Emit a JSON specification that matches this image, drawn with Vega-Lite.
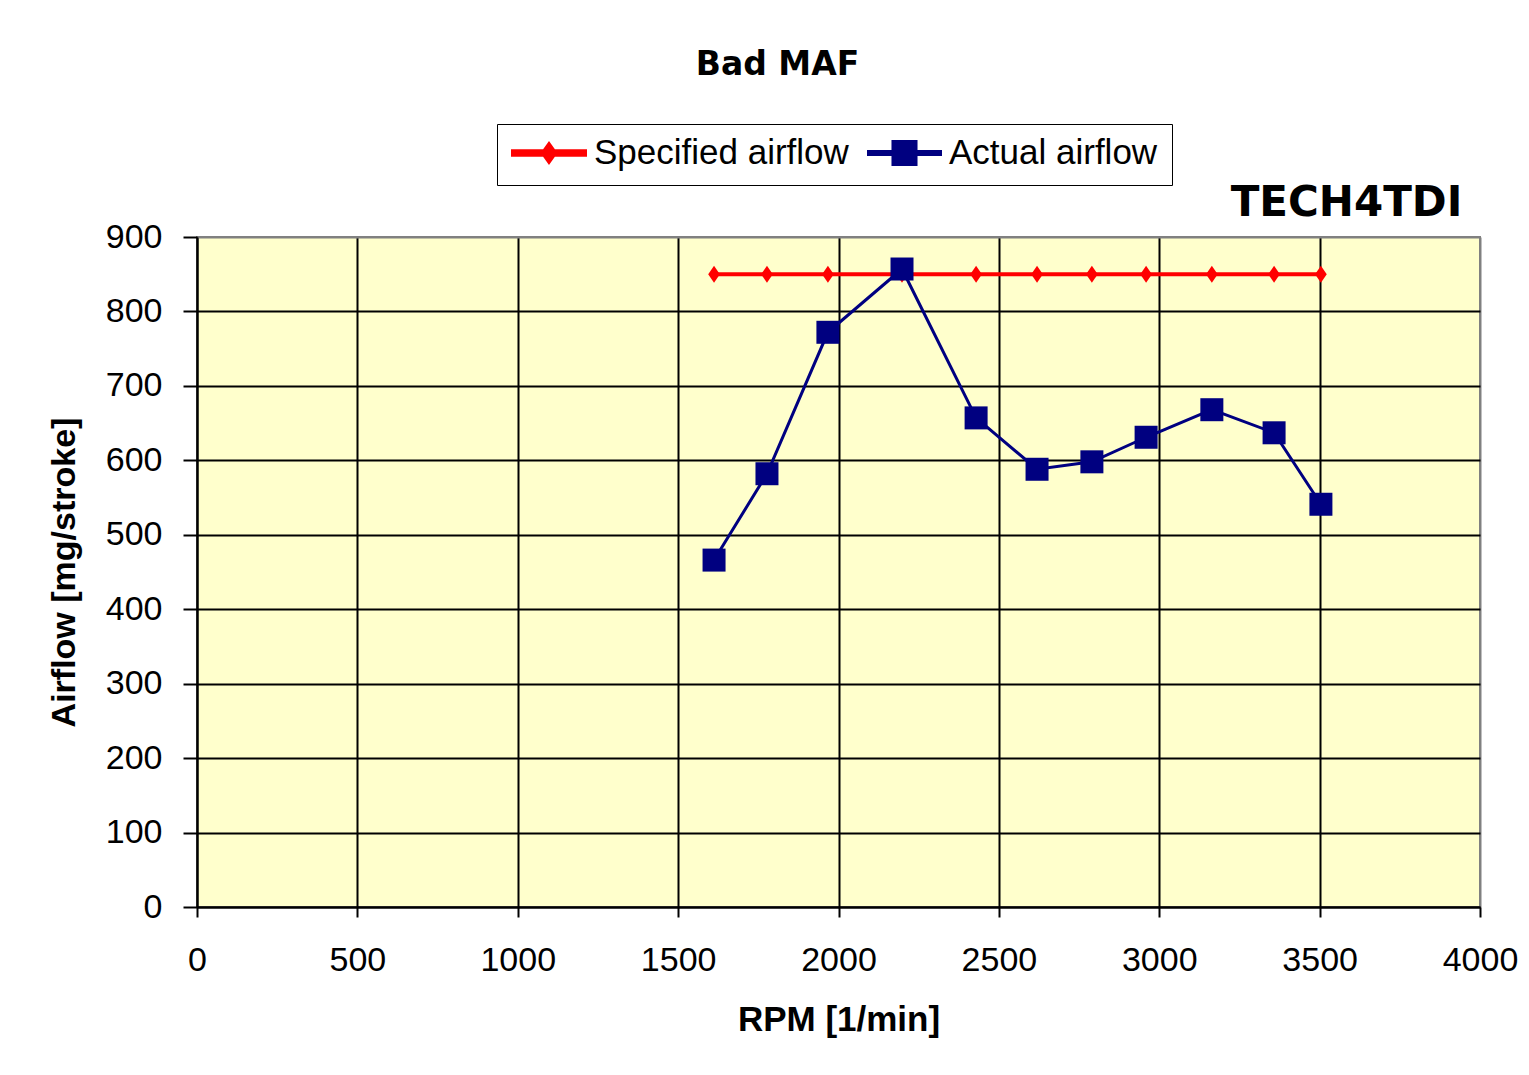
{
  "$schema": "https://vega.github.io/schema/vega-lite/v6.json",
  "width": 1283,
  "height": 670,
  "autosize": {"type": "none"},
  "padding": {"left": 197, "top": 237, "right": 49, "bottom": 168},
  "background": "white",
  "title": {
    "text": "Bad MAF",
    "font": "DejaVu Sans",
    "fontSize": 33,
    "fontWeight": "bold",
    "color": "black",
    "anchor": "middle",
    "dx": -61,
    "offset": 42
  },
  "data": {
    "values": [
      {"rpm": 1612, "airflow": 850, "series": "Specified airflow"},
      {"rpm": 1777, "airflow": 850, "series": "Specified airflow"},
      {"rpm": 1967, "airflow": 850, "series": "Specified airflow"},
      {"rpm": 2198, "airflow": 850, "series": "Specified airflow"},
      {"rpm": 2429, "airflow": 850, "series": "Specified airflow"},
      {"rpm": 2619, "airflow": 850, "series": "Specified airflow"},
      {"rpm": 2790, "airflow": 850, "series": "Specified airflow"},
      {"rpm": 2959, "airflow": 850, "series": "Specified airflow"},
      {"rpm": 3164, "airflow": 850, "series": "Specified airflow"},
      {"rpm": 3358, "airflow": 850, "series": "Specified airflow"},
      {"rpm": 3504, "airflow": 850, "series": "Specified airflow"},
      {"rpm": 1612, "airflow": 466, "series": "Actual airflow"},
      {"rpm": 1777, "airflow": 582, "series": "Actual airflow"},
      {"rpm": 1967, "airflow": 772, "series": "Actual airflow"},
      {"rpm": 2198, "airflow": 857, "series": "Actual airflow"},
      {"rpm": 2429, "airflow": 657, "series": "Actual airflow"},
      {"rpm": 2619, "airflow": 588, "series": "Actual airflow"},
      {"rpm": 2790, "airflow": 598, "series": "Actual airflow"},
      {"rpm": 2959, "airflow": 631, "series": "Actual airflow"},
      {"rpm": 3164, "airflow": 668, "series": "Actual airflow"},
      {"rpm": 3358, "airflow": 637, "series": "Actual airflow"},
      {"rpm": 3504, "airflow": 541, "series": "Actual airflow"}
    ]
  },
  "encoding": {
    "x": {
      "field": "rpm",
      "type": "quantitative",
      "scale": {"domain": [0, 4000], "nice": false, "zero": true},
      "axis": {
        "title": "RPM [1/min]",
        "titleFontSize": 35,
        "values": [0, 500, 1000, 1500, 2000, 2500, 3000, 3500, 4000],
        "format": "d",
        "tickSize": 10,
        "labelPadding": 26,
        "titlePadding": 25,
        "gridColor": {"condition": {"test": "datum.value == 4000", "value": "#808080"}, "value": "black"}
      }
    },
    "y": {
      "field": "airflow",
      "type": "quantitative",
      "scale": {"domain": [0, 900], "nice": false},
      "axis": {
        "title": "Airflow [mg/stroke]",
        "titleFontSize": 34,
        "values": [0, 100, 200, 300, 400, 500, 600, 700, 800, 900],
        "format": "d",
        "tickSize": 14,
        "labelPadding": 21,
        "titlePadding": 24,
        "gridColor": {"condition": {"test": "datum.value == 900", "value": "#808080"}, "value": "black"}
      }
    }
  },
  "layer": [
    {
      "mark": {"type": "line"},
      "encoding": {
        "color": {
          "field": "series",
          "type": "nominal",
          "scale": {"domain": ["Specified airflow", "Actual airflow"], "range": ["#FF0000", "#000080"]},
          "legend": {
            "orient": "none",
            "legendX": 300,
            "legendY": -113,
            "direction": "horizontal",
            "title": null,
            "strokeColor": "black",
            "fillColor": "white",
            "padding": 14,
            "symbolSize": 5184,
            "clipHeight": 30,
            "labelFont": "Liberation Sans",
            "labelFontSize": 35,
            "labelColor": "black",
            "labelOffset": 7,
            "labelLimit": 500,
            "columnPadding": 18,
            "symbolOffset": 0,
            "encode": {
              "symbols": {
                "update": {
                  "shape": {"signal": "datum.label == 'Specified airflow' ? 'M-1,-0.05H1V0.05H-1Z M0,-0.24L0.17,0L0,0.24L-0.17,0Z' : 'M-1,-0.045H1V0.045H-1Z M-0.32,-0.32H0.32V0.32H-0.32Z'"},
                  "fill": {"signal": "datum.label == 'Specified airflow' ? '#FF0000' : '#000080'"},
                  "stroke": {"value": "transparent"},
                  "strokeWidth": {"value": 0},
                  "opacity": {"value": 1}
                }
              }
            }
          }
        },
        "strokeWidth": {
          "field": "series",
          "type": "nominal",
          "scale": {"domain": ["Specified airflow", "Actual airflow"], "range": [4, 3]},
          "legend": null
        }
      }
    },
    {
      "transform": [{"filter": "datum.series == 'Specified airflow'"}],
      "mark": {"type": "point", "filled": true, "opacity": 1, "shape": "M0,-0.95L0.65,0L0,0.95L-0.65,0Z", "size": 324, "color": "#FF0000"}
    },
    {
      "transform": [{"filter": "datum.series == 'Actual airflow'"}],
      "mark": {"type": "point", "filled": true, "opacity": 1, "shape": "square", "size": 529, "color": "#000080"}
    },
    {
      "data": {"values": [{"label": "TECH4TDI", "rpm": 3945, "airflow": 946}]},
      "mark": {"type": "text", "align": "right", "baseline": "middle", "font": "DejaVu Sans", "fontSize": 42, "fontWeight": "bold", "color": "black"},
      "encoding": {
        "text": {"field": "label"}
      }
    }
  ],
  "config": {
    "view": {"fill": "#FFFFCC", "stroke": "#808080", "strokeWidth": 2},
    "axis": {
      "grid": true,
      "gridWidth": 2,
      "gridOpacity": 1,
      "domainColor": "black",
      "domainWidth": 2,
      "tickColor": "black",
      "tickWidth": 2,
      "labelFont": "Liberation Sans",
      "labelFontSize": 34,
      "labelColor": "black",
      "labelFlush": false,
      "labelOverlap": false,
      "titleFont": "Liberation Sans",
      "titleFontWeight": "bold",
      "titleColor": "black"
    }
  }
}
